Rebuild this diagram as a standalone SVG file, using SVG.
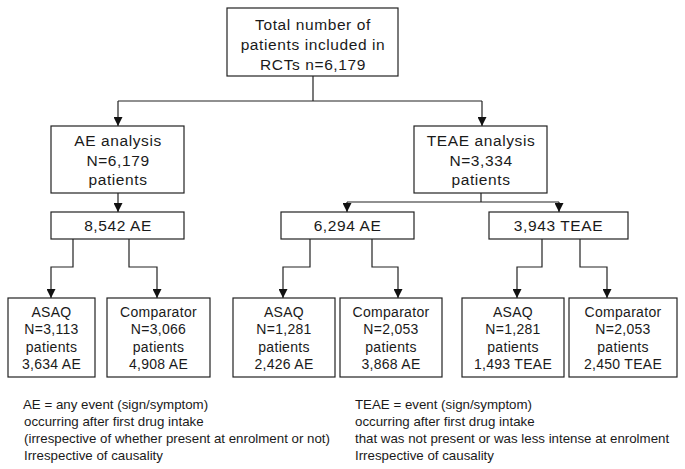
<svg xmlns="http://www.w3.org/2000/svg" width="685" height="469" viewBox="0 0 685 469">
<style>
.box{fill:#fff;stroke:#222;stroke-width:1.2}
.c{fill:none;stroke:#222;stroke-width:1.2}
text{font-family:"Liberation Sans",Arial,sans-serif;fill:#1a1a1a;text-anchor:middle}
.big{font-size:15.5px;letter-spacing:0.6px}
.sm{font-size:14px;letter-spacing:0.3px}
.note{font-size:13.3px;text-anchor:start}
</style>
<defs>
<marker id="ah" markerUnits="userSpaceOnUse" markerWidth="9" markerHeight="9" refX="9" refY="4.5" orient="auto">
<path d="M0,0 L9,4.5 L0,9 z" fill="#111"/>
</marker>
</defs>
<rect width="685" height="469" fill="#fff"/>
<g id="connectors">
<path class="c" d="M313,76 V101 M118,101 H482"/>
<path class="c" d="M118,101 V126" marker-end="url(#ah)"/>
<path class="c" d="M482,101 V126" marker-end="url(#ah)"/>
<path class="c" d="M118,193 V212" marker-end="url(#ah)"/>
<path class="c" d="M481,193 V202 M347,202 H559"/>
<path class="c" d="M347,202 V212" marker-end="url(#ah)"/>
<path class="c" d="M559,202 V212" marker-end="url(#ah)"/>
<path class="c" d="M73,239 V267 H51 V298" marker-end="url(#ah)"/>
<path class="c" d="M129,239 V267 H157 V298" marker-end="url(#ah)"/>
<path class="c" d="M310,239 V267 H283 V298" marker-end="url(#ah)"/>
<path class="c" d="M372,239 V267 H398 V298" marker-end="url(#ah)"/>
<path class="c" d="M542,239 V267 H517 V298" marker-end="url(#ah)"/>
<path class="c" d="M580,239 V267 H607 V298" marker-end="url(#ah)"/>
</g>
<g id="total">
<rect class="box" x="227" y="8" width="171" height="68"/>
<text class="big" x="313" y="30">Total number of</text>
<text class="big" x="313" y="50">patients included in</text>
<text class="big" x="313" y="70">RCTs n=6,179</text>
</g>
<g id="ae-analysis">
<rect class="box" x="51" y="126" width="133" height="67"/>
<text class="big" x="118" y="146">AE analysis</text>
<text class="big" x="118" y="165.5">N=6,179</text>
<text class="big" x="118" y="185">patients</text>
</g>
<g id="teae-analysis">
<rect class="box" x="414" y="126" width="133" height="67"/>
<text class="big" x="481" y="146">TEAE analysis</text>
<text class="big" x="481" y="165.5">N=3,334</text>
<text class="big" x="481" y="185">patients</text>
</g>
<g id="ae-8542">
<rect class="box" x="51" y="212" width="133" height="27"/>
<text class="big" x="118" y="231">8,542 AE</text>
</g>
<g id="ae-6294">
<rect class="box" x="281" y="212" width="133" height="27"/>
<text class="big" x="347.5" y="231">6,294 AE</text>
</g>
<g id="teae-3943">
<rect class="box" x="489" y="212" width="139" height="27"/>
<text class="big" x="558.5" y="231">3,943 TEAE</text>
</g>
<g id="asaq-1">
<rect class="box" x="8" y="298" width="87" height="79"/>
<text class="sm" x="51.5" y="316.5">ASAQ</text>
<text class="sm" x="51.5" y="334">N=3,113</text>
<text class="sm" x="51.5" y="351.5">patients</text>
<text class="sm" x="51.5" y="369">3,634 AE</text>
</g>
<g id="comp-1">
<rect class="box" x="107" y="298" width="103" height="79"/>
<text class="sm" x="158.5" y="316.5">Comparator</text>
<text class="sm" x="158.5" y="334">N=3,066</text>
<text class="sm" x="158.5" y="351.5">patients</text>
<text class="sm" x="158.5" y="369">4,908 AE</text>
</g>
<g id="asaq-2">
<rect class="box" x="233" y="298" width="102" height="79"/>
<text class="sm" x="284" y="316.5">ASAQ</text>
<text class="sm" x="284" y="334">N=1,281</text>
<text class="sm" x="284" y="351.5">patients</text>
<text class="sm" x="284" y="369">2,426 AE</text>
</g>
<g id="comp-2">
<rect class="box" x="340" y="298" width="102" height="79"/>
<text class="sm" x="391" y="316.5">Comparator</text>
<text class="sm" x="391" y="334">N=2,053</text>
<text class="sm" x="391" y="351.5">patients</text>
<text class="sm" x="391" y="369">3,868 AE</text>
</g>
<g id="asaq-3">
<rect class="box" x="462" y="298" width="102" height="79"/>
<text class="sm" x="513" y="316.5">ASAQ</text>
<text class="sm" x="513" y="334">N=1,281</text>
<text class="sm" x="513" y="351.5">patients</text>
<text class="sm" x="513" y="369">1,493 TEAE</text>
</g>
<g id="comp-3">
<rect class="box" x="569" y="298" width="108" height="79"/>
<text class="sm" x="623" y="316.5">Comparator</text>
<text class="sm" x="623" y="334">N=2,053</text>
<text class="sm" x="623" y="351.5">patients</text>
<text class="sm" x="623" y="369">2,450 TEAE</text>
</g>
<g id="ae-note">
<text class="note" x="23" y="409">AE = any event (sign/symptom)</text>
<text class="note" x="24" y="426">occurring after first drug intake</text>
<text class="note" x="24" y="443">(irrespective of whether present at enrolment or not)</text>
<text class="note" x="24" y="460">Irrespective of causality</text>
</g>
<g id="teae-note">
<text class="note" x="355" y="409">TEAE = event (sign/symptom)</text>
<text class="note" x="355" y="426">occurring after first drug intake</text>
<text class="note" x="355" y="443">that was not present or was less intense at enrolment</text>
<text class="note" x="355" y="460">Irrespective of causality</text>
</g>
</svg>
